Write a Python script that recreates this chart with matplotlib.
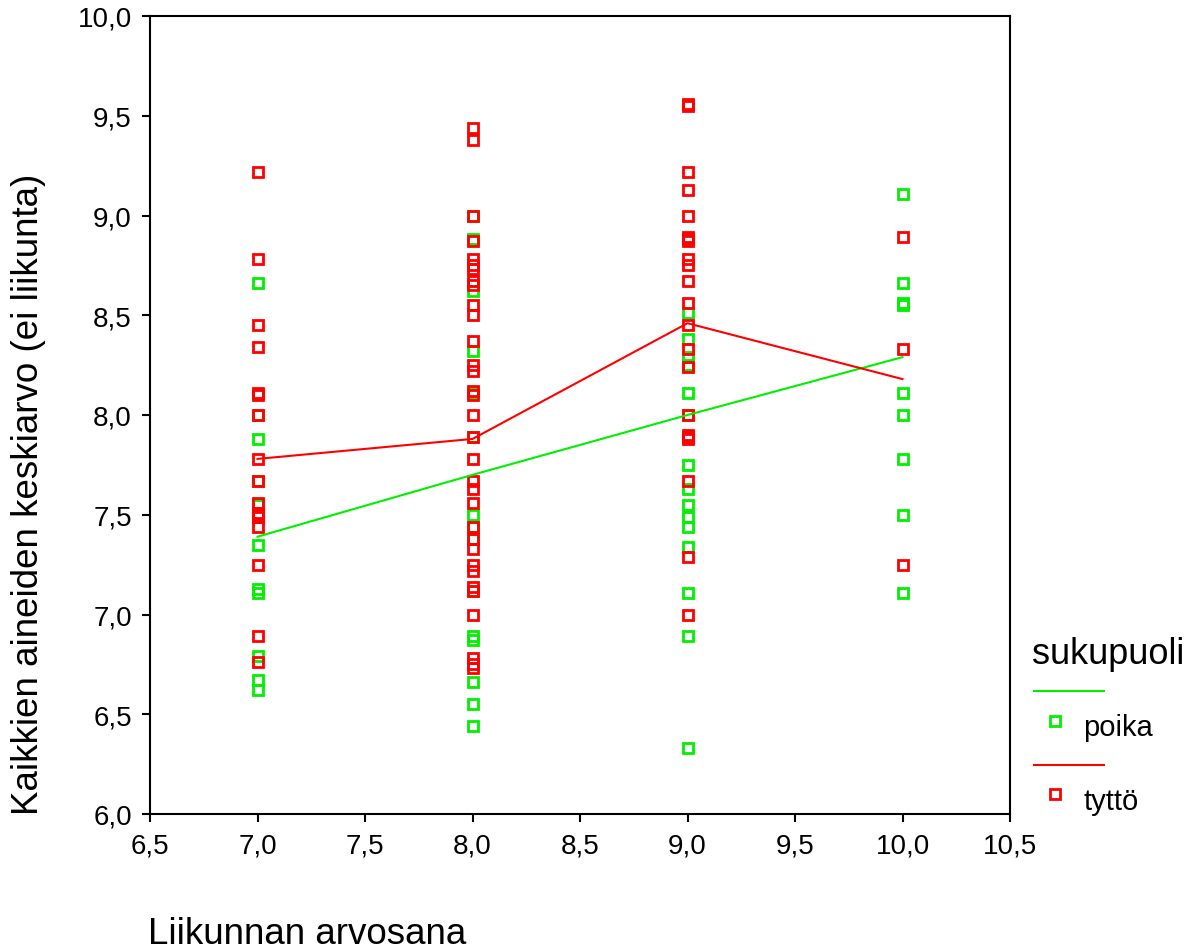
import matplotlib
matplotlib.use("Agg")
import matplotlib.pyplot as plt
from matplotlib.lines import Line2D
from matplotlib.ticker import FuncFormatter, MultipleLocator

plt.rcParams['font.family'] = ['Liberation Sans', 'DejaVu Sans']

# liikunnan arvosana (x) and subject averages per grade
arvosanat = [7.0, 8.0, 9.0, 10.0]

poika = [
    [8.66, 8.00, 7.88, 7.67, 7.55, 7.35, 7.13, 7.11, 6.79, 6.67, 6.62],
    [9.00, 8.88, 8.62, 8.32, 8.11, 7.89, 7.50, 7.44, 7.38, 7.12, 6.89, 6.87,
     6.66, 6.55, 6.44],
    [8.51, 8.38, 8.29, 8.25, 8.11, 8.00, 7.75, 7.63, 7.55, 7.49, 7.44, 7.34,
     7.11, 6.89, 6.33],
    [9.11, 8.66, 8.56, 8.55, 8.11, 8.00, 7.78, 7.50, 7.11],
]
tytto = [
    [9.22, 8.78, 8.45, 8.34, 8.11, 8.10, 8.00, 7.78, 7.67, 7.56, 7.51, 7.50,
     7.49, 7.44, 7.25, 6.89, 6.76],
    [9.44, 9.38, 9.00, 8.87, 8.78, 8.75, 8.73, 8.67, 8.65, 8.55, 8.50, 8.37,
     8.25, 8.22, 8.12, 8.10, 8.00, 7.89, 7.78, 7.67, 7.63, 7.56, 7.44, 7.38,
     7.33, 7.25, 7.22, 7.14, 7.12, 7.00, 6.78, 6.75, 6.73],
    [9.56, 9.55, 9.22, 9.13, 9.00, 8.89, 8.88, 8.87, 8.78, 8.75, 8.67, 8.56,
     8.45, 8.33, 8.24, 8.00, 7.90, 7.89, 7.88, 7.67, 7.29, 7.00],
    [8.89, 8.33, 7.25],
]
# mean lines
poika_ka = [7.39, 7.70, 8.00, 8.29]
tytto_ka = [7.78, 7.88, 8.46, 8.18]

vihrea = "#00f000"
punainen = "#ff0000"
MS = 7.3
MEW = 2.0

fig = plt.figure(figsize=(11.94, 9.53), dpi=100)
ax = fig.add_axes([150 / 1194, 1 - 815 / 953, 860 / 1194, 798 / 953])

for x, ys in zip(arvosanat, poika):
    ax.plot([x] * len(ys), ys, ls="none", marker="s", ms=MS, mfc="none",
            mec=vihrea, mew=MEW)
for x, ys in zip(arvosanat, tytto):
    ax.plot([x] * len(ys), ys, ls="none", marker="s", ms=MS, mfc="none",
            mec=punainen, mew=MEW)

ax.plot(arvosanat, poika_ka, color=vihrea, lw=1.5)
ax.plot(arvosanat, tytto_ka, color=punainen, lw=1.5)

ax.set_xlim(6.5, 10.5)
ax.set_ylim(6.0, 10.0)
ax.xaxis.set_major_locator(MultipleLocator(0.5))
ax.yaxis.set_major_locator(MultipleLocator(0.5))
pilkku = FuncFormatter(lambda v, p: f"{v:.1f}".replace(".", ","))
ax.xaxis.set_major_formatter(pilkku)
ax.yaxis.set_major_formatter(pilkku)
ax.tick_params(direction="out", length=6, width=1.5, labelsize=20, pad=7)
for s in ax.spines.values():
    s.set_linewidth(1.5)

fig.text(148 / 1194, 1 - 935 / 953, "Liikunnan arvosana", fontsize=26.5,
         ha="left", va="center")
fig.text(29 / 1194, 1 - 815 / 953, "Kaikkien aineiden keskiarvo (ei liikunta)",
         fontsize=26.5, rotation=90, ha="center", va="bottom")

# legend drawn by hand
fig.text(1032 / 1194, 1 - 655 / 953, "sukupuoli", fontsize=26, ha="left",
         va="center")
fig.add_artist(Line2D([1034 / 1194, 1104 / 1194], [1 - 692 / 953] * 2,
                      color=vihrea, lw=1.5, transform=fig.transFigure))
fig.add_artist(Line2D([1055 / 1194], [1 - 722 / 953], ls="none", marker="s",
                      ms=MS, mfc="none", mec=vihrea, mew=MEW,
                      transform=fig.transFigure))
fig.text(1083 / 1194, 1 - 728 / 953, "poika", fontsize=21, ha="left", va="center")
fig.add_artist(Line2D([1034 / 1194, 1104 / 1194], [1 - 766 / 953] * 2,
                      color=punainen, lw=1.5, transform=fig.transFigure))
fig.add_artist(Line2D([1055 / 1194], [1 - 795 / 953], ls="none", marker="s",
                      ms=MS, mfc="none", mec=punainen, mew=MEW,
                      transform=fig.transFigure))
fig.text(1083 / 1194, 1 - 802 / 953, "tyttö", fontsize=21, ha="left", va="center")

fig.savefig("out.png", dpi=100)
